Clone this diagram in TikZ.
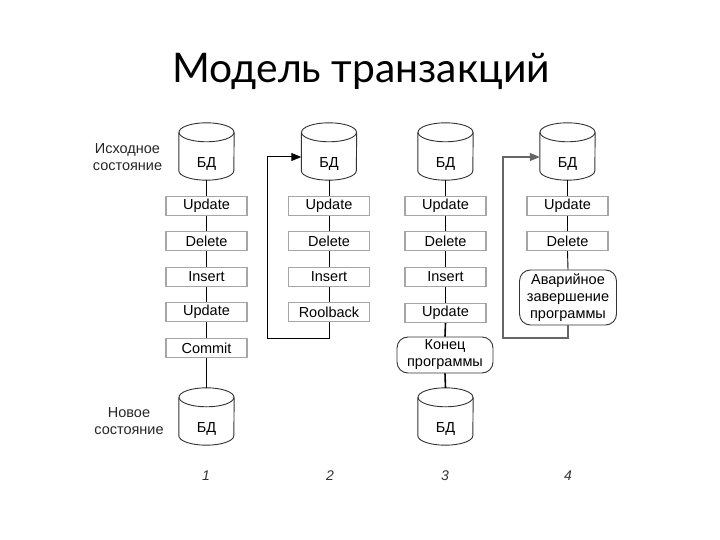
\documentclass[tikz,border=0pt]{standalone}
\usepackage{fontspec}
\setmainfont{Liberation Sans}
\newfontfamily\titlefont{Lato}
\usetikzlibrary{calc,arrows.meta}
\tikzset{
  txt/.style={font=\fontsize{14.5}{17}\selectfont},
  op/.style={txt, draw=gray!70, line width=1.1pt, fill=white, minimum width=81pt, minimum height=19pt, inner sep=0pt},
  term/.style={txt, draw=black!80, line width=0.9pt, fill=white, rounded corners=11pt, align=center, inner sep=0pt},
  conn/.style={draw=black, line width=0.9pt},
  connb/.style={draw=black, line width=1.6pt},
  cyl/.style={draw=black!80, line width=0.9pt},
  loopline/.style={draw=black, line width=1pt, -{Triangle[length=10pt,width=8pt]}},
  loopgray/.style={draw=black!60, line width=1.1pt, -{Triangle[length=10pt,width=8pt]}},
  lbl/.style={txt, align=center, text=black!85},
  num/.style={font=\itshape\fontsize{14}{16}\selectfont, text=black!80},
  cylbox/.style={minimum width=55pt, minimum height=57pt, inner sep=0pt}
}
\newcommand\dbcyl[3]{%
  \node[cylbox] (#1) at (#2,{-(#3)-28.5}) {};
  \draw[cyl] ($(#1.north west)+(0,-9.5)$) -- ($(#1.south west)+(0,9.5)$)
     arc[start angle=180,end angle=360,x radius=27.5,y radius=9.5]
     -- ($(#1.north east)+(0,-9.5)$);
  \draw[cyl] ($(#1.north)+(0,-9.5)$) ellipse[x radius=27.5, y radius=9.5];
  \node[txt] (#1t) at ($(#1.south)+(0,16.5)$) {БД};
}
\begin{document}
\begin{tikzpicture}[x=1pt,y=1pt]
\useasboundingbox (0,0) rectangle (720,-540);
\fill[white] (0,0) rectangle (720,-540);

\node[font=\titlefont\fontsize{40.8}{46}\selectfont, anchor=base] (title) at (361,-83) {Модель транзакций};

% column 1
\dbcyl{c1}{206.5}{123}
\node[op] (a1) at (206.5,-206) {Update};
\node[op] (a2) at (206.5,-241) {Delete};
\node[op] (a3) at (206.5,-277) {Insert};
\node[op] (a4) at (206.5,-312) {Update};
\node[op] (a5) at (206.5,-348) {Commit};
\dbcyl{d1}{206.5}{388}
\draw[conn] (c1.south) -- (a1.north);
\draw[conn] (a1.south) -- (a2.north);
\draw[conn] (a2.south) -- (a3.north);
\draw[conn] (a3.south) -- (a4.north);
\draw[conn] (a4.south) -- (a5.north);
\draw[conn] (a5.south) -- (d1.north);
\node[lbl] (l1) at (127.5,-157) {Исходное\\состояние};
\node[lbl] (l2) at (129,-421) {Новое\\состояние};

% column 2
\dbcyl{c2}{329}{123}
\node[op] (b1) at (329,-206) {Update};
\node[op] (b2) at (329,-241) {Delete};
\node[op] (b3) at (329,-277) {Insert};
\node[op] (b4) at (329,-312) {Roolback};
\draw[conn] (c2.south) -- (b1.north);
\draw[conn] (b1.south) -- (b2.north);
\draw[conn] (b2.south) -- (b3.north);
\draw[conn] (b3.south) -- (b4.north);
\coordinate (p2) at (267,-338);
\draw[loopline] (b4.south) |- (p2) |- ($(c2.west)+(0,-5.5)$);

% column 3
\dbcyl{c3}{445.5}{123}
\node[op] (e1) at (445.5,-206) {Update};
\node[op] (e2) at (445.5,-241) {Delete};
\node[op] (e3) at (445.5,-277) {Insert};
\node[op] (e4) at (445.5,-313) {Update};
\node[term, minimum width=96pt, minimum height=36pt] (e5) at (445,-355) {Конец\\программы};
\dbcyl{d3}{445.5}{388}
\draw[connb] (c3.south) -- (e1.north);
\draw[conn] (e1.south) -- (e2.north);
\draw[conn] (e2.south) -- (e3.north);
\draw[connb] (e3.south) -- (e4.north);
\draw[connb] (e4.south) -- (e5.north);
\draw[connb] (e5.south) -- (d3.north);

% column 4
\dbcyl{c4}{567.5}{123}
\node[op] (f1) at (567.5,-206) {Update};
\node[op] (f2) at (567.5,-241) {Delete};
\node[term, minimum width=97pt, minimum height=55pt] (f3) at (568,-297.5) {Аварийное\\завершение\\программы};
\draw[conn] (c4.south) -- (f1.north);
\draw[conn] (f1.south) -- (f2.north);
\draw[conn] (f2.south) -- (f3.north);
\coordinate (p4) at (503,-338);
\draw[loopgray] (f3.south) |- (p4) |- ($(c4.west)+(0,-5.5)$);

% numbers
\node[num] (n1) at (206,-476) {1};
\node[num] (n2) at (330,-476) {2};
\node[num] (n3) at (445,-476) {3};
\node[num] (n4) at (568,-476) {4};
\end{tikzpicture}
\end{document}
